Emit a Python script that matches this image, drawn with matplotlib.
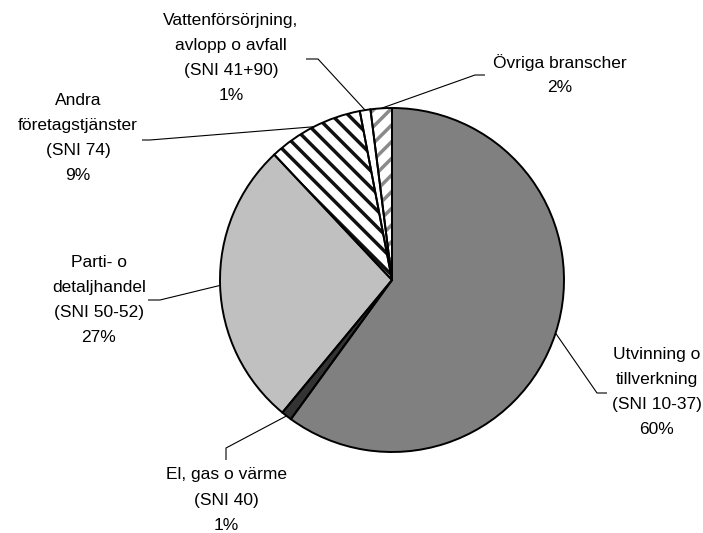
import numpy as np
import matplotlib.pyplot as plt

plt.rcParams['font.family'] = ['Liberation Sans', 'DejaVu Sans']
plt.rcParams['hatch.linewidth'] = 2.5

W, H = 703, 533

# data
names = [
    ["Utvinning o", "tillverkning", "(SNI 10-37)"],
    ["El, gas o värme", "(SNI 40)"],
    ["Parti- o", "detaljhandel", "(SNI 50-52)"],
    ["Andra", "företagstjänster", "(SNI 74)"],
    ["Vattenförsörjning,", "avlopp o avfall", "(SNI 41+90)"],
    ["Övriga branscher"],
]
shares = [60, 1, 27, 9, 1, 2]

# styles
faces = ['#808080', '#333333', '#c0c0c0', 'white', 'white', 'white']
hatches = [None, None, None, '\\\\', None, '//']
hatch_cols = [None, None, None, '#111111', None, '#8a8a8a']

# layout in pixels from top-left
cx, cy, rad = 392, 280, 172
text_pos = [(657, 392), (226, 500), (99, 300), (78, 138), (231, 58), (560, 75)]
leaders = [((597, 393), (607, 393)), ((226, 448), (226, 460)),
           ((160, 300), (148, 300)), ((150, 140), (142, 140)),
           ((318, 59), (306, 59)), ((475, 75), (485, 75))]
step = 25


def Y(y):
    return H - y


fig = plt.figure(figsize=(W / 100, H / 100), dpi=100)
ax = fig.add_axes([0, 0, 1, 1])

wedges, _ = ax.pie(shares, colors=faces, startangle=90, counterclock=False,
                   center=(cx, Y(cy)), radius=rad,
                   wedgeprops=dict(linewidth=0))
for w, h, hc in zip(wedges, hatches, hatch_cols):
    if h:
        w.set_hatch(h)
        w.set_edgecolor(hc)

# outlines on top
ax.pie(shares, colors=['none'] * len(shares), startangle=90, counterclock=False,
       center=(cx, Y(cy)), radius=rad,
       wedgeprops=dict(edgecolor='black', linewidth=1.4, fill=False))

for w, lines, v, (tx, ty), (p1, p2) in zip(wedges, names, shares, text_pos, leaders):
    mid = np.deg2rad((w.theta1 + w.theta2) / 2)
    sx = cx + rad * np.cos(mid)
    sy = Y(cy) + rad * np.sin(mid)
    ax.plot([sx, p1[0], p2[0]], [sy, Y(p1[1]), Y(p2[1])],
            color='black', linewidth=0.8, solid_capstyle='butt')
    rows = lines + [f"{v}%"]
    top = ty - step * (len(rows) - 1) / 2
    for i, s in enumerate(rows):
        ax.text(tx, Y(top + i * step), s, ha='center', va='center',
                fontsize=12.5, color='black')

ax.set_xlim(0, W)
ax.set_ylim(0, H)
ax.set_aspect('equal')
ax.axis('off')

fig.savefig('out.png', dpi=100)
